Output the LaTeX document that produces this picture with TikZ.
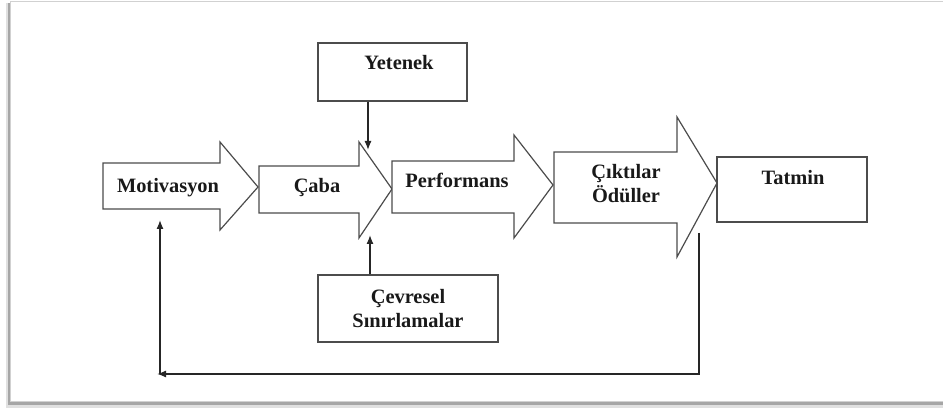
\documentclass[tikz,border=0pt]{standalone}
\usepackage{fontspec}
\setmainfont{Liberation Serif}
\usetikzlibrary{arrows.meta,calc}

\tikzset{
  blk/.style={draw=black!70, line width=1.2pt, fill=white},
  box/.style={draw=black!70, line width=1.2pt, rectangle, inner sep=0pt},
  lbl/.style={font=\fontsize{20.4}{24}\selectfont\bfseries, text=black!90, inner sep=0pt},
  conn/.style={draw=black!85, line width=1.3pt, -{Latex[length=9pt,width=7pt]}},
}

\begin{document}
\begin{tikzpicture}[x=1pt,y=-1pt]
  \useasboundingbox (0,0) rectangle (943,411);
  % frame with shadow
  \fill[black!12] (6,3) rectangle (943,408);
  \fill[black!35] (8,3) rectangle (943,405);
  \filldraw[fill=white,draw=black!18] (10,1) rectangle (945,401);

  % block arrows
  \draw[blk] (103,163) -- (220,163) -- (220,142) -- (258,187) -- (220,230) -- (220,209) -- (103,209) -- cycle;
  \draw[blk] (259,166) -- (359,166) -- (359,142) -- (392,189) -- (359,238) -- (359,213) -- (259,213) -- cycle;
  \draw[blk] (392,161) -- (514,161) -- (514,135) -- (553,185) -- (514,238) -- (514,213) -- (392,213) -- cycle;
  \draw[blk] (554,152) -- (677,152) -- (677,117) -- (717,183) -- (677,257) -- (677,223) -- (554,223) -- cycle;

  \node[lbl, anchor=base] (motiv) at (168,193) {Motivasyon};
  \node[lbl, anchor=base] (caba) at (317,193) {Çaba};
  \node[lbl, anchor=base] (perf) at (457,188) {Performans};
  \node[lbl, align=center] (cikti) at (626,184) {Çıktılar\\Ödüller};

  % boxes
  \node[box, minimum width=149pt, minimum height=58pt,
    label={[lbl, anchor=base, xshift=6.5pt, yshift=-27pt]north:Yetenek}] (yetenek) at (392.5,72) {};
  \node[box, minimum width=150pt, minimum height=65pt,
    label={[lbl, anchor=base, xshift=1pt, yshift=-28pt]north:Tatmin}] (tatmin) at (792,189.5) {};
  \node[box, lbl, align=center, minimum width=180pt, minimum height=67pt] (cevre) at (408,308.5) {Çevresel\\Sınırlamalar};

  % connectors
  \coordinate (yetTip) at (368,150);
  \coordinate (cevTip) at (370,235);
  \coordinate (fbStart) at (699,233);
  \coordinate (fbLeft) at (157,374);
  \coordinate (fbEnd) at (160,220);
  \draw[conn] (yetenek.south -| yetTip) -- (yetTip);
  \draw[conn] (cevre.north -| cevTip) -- (cevTip);
  \draw[conn] (fbStart) |- (fbLeft);
  \draw[conn] (fbEnd |- fbLeft) -- (fbEnd);
\end{tikzpicture}
\end{document}
